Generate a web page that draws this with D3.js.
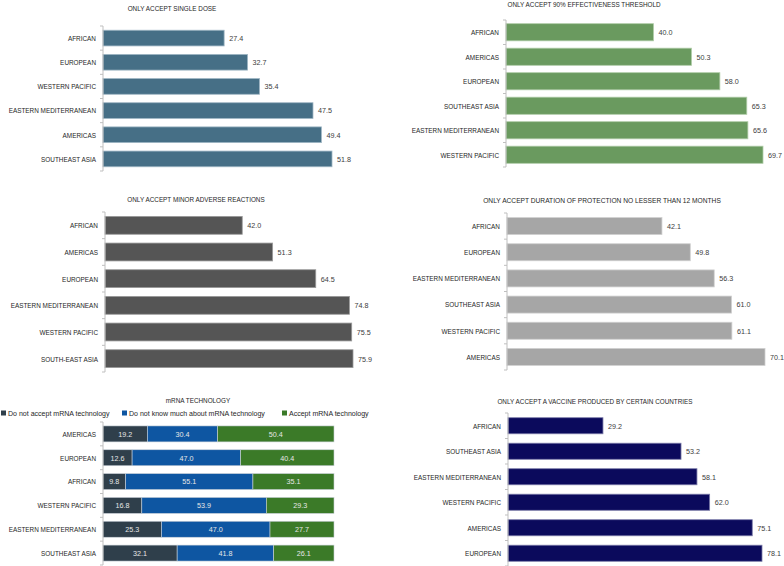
<!DOCTYPE html>
<html>
<head>
<meta charset="utf-8">
<script src="https://cdn.jsdelivr.net/npm/d3@7"></script>
<style>
  body { margin: 0; background: #fff; }
  svg { display: block; }
  text { font-family: "Liberation Sans", Arial, sans-serif; }
</style>
</head>
<body>
<svg width="784" height="566"></svg>
<script>
// ---- data ----
var singleDoseRegions = ['AFRICAN', 'EUROPEAN', 'WESTERN PACIFIC', 'EASTERN MEDITERRANEAN', 'AMERICAS', 'SOUTHEAST ASIA'];
var singleDoseValues = [27.4, 32.7, 35.4, 47.5, 49.4, 51.8];

var effectRegions = ['AFRICAN', 'AMERICAS', 'EUROPEAN', 'SOUTHEAST ASIA', 'EASTERN MEDITERRANEAN', 'WESTERN PACIFIC'];
var effectValues = [40.0, 50.3, 58.0, 65.3, 65.6, 69.7];

var adverseRegions = ['AFRICAN', 'AMERICAS', 'EUROPEAN', 'EASTERN MEDITERRANEAN', 'WESTERN PACIFIC', 'SOUTH-EAST ASIA'];
var adverseValues = [42.0, 51.3, 64.5, 74.8, 75.5, 75.9];

var durationRegions = ['AFRICAN', 'EUROPEAN', 'EASTERN MEDITERRANEAN', 'SOUTHEAST ASIA', 'WESTERN PACIFIC', 'AMERICAS'];
var durationValues = [42.1, 49.8, 56.3, 61.0, 61.1, 70.1];

var countryRegions = ['AFRICAN', 'SOUTHEAST ASIA', 'EASTERN MEDITERRANEAN', 'WESTERN PACIFIC', 'AMERICAS', 'EUROPEAN'];
var countryValues = [29.2, 53.2, 58.1, 62.0, 75.1, 78.1];

var mrnaRegions = ['AMERICAS', 'EUROPEAN', 'AFRICAN', 'WESTERN PACIFIC', 'EASTERN MEDITERRANEAN', 'SOUTHEAST ASIA'];
var mrnaSeries = ['Do not accept mRNA technology', 'Do not know much about mRNA technology', 'Accept mRNA technology'];
var mrnaNotAccept = [19.2, 12.6, 9.8, 16.8, 25.3, 32.1];
var mrnaDontKnow = [30.4, 47.0, 55.1, 53.9, 47.0, 41.8];
var mrnaAccept = [50.4, 40.4, 35.1, 29.3, 27.7, 26.1];

var svg = d3.select('svg');

// no narrow font installed, so squeeze text horizontally
function squeeze(sel, sx){
    sel.each(function(){
        var t = d3.select(this);
        var x = +t.attr('x'), y = +t.attr('y');
        t.attr('x', 0).attr('y', 0)
         .attr('transform', 'translate(' + x + ',' + y + ') scale(' + sx + ',1)');
    });
}

// axis line with Excel-like ticks at the band edges
function drawCatAxis(g, y, x0){
    var r = y.range();
    g.append('line')
        .attr('x1', x0).attr('x2', x0)
        .attr('y1', r[0]).attr('y2', r[1])
        .attr('stroke', '#bfbfbf').attr('stroke-width', 1);
    var step = (r[1] - r[0]) / y.domain().length;
    g.selectAll('line.tk')
        .data(d3.range(y.domain().length + 1))
        .enter()
        .append('line')
        .attr('class', 'tk')
        .attr('x1', x0 - 3).attr('x2', x0)
        .attr('y1', function(i){ return r[0] + i * step })
        .attr('y2', function(i){ return r[0] + i * step })
        .attr('stroke', '#bfbfbf').attr('stroke-width', 1);
    g.selectAll('text.cat')
        .data(y.domain())
        .enter()
        .append('text')
        .attr('class', 'cat')
        .attr('x', x0 - 7)
        .attr('y', function(d){ return y(d) + y.bandwidth() / 2 + 2.9 })
        .attr('text-anchor', 'end')
        .attr('font-size', 8)
        .attr('fill', '#262626')
        .text(function(d){ return d })
        .call(squeeze, 0.8);
}

function drawHBar(opt, regions, values){
    var g = svg.append('g');
    var y = d3.scaleBand().domain(regions).range(opt.yRange).paddingInner(opt.pad).paddingOuter(opt.pad / 2);
    var x = d3.scaleLinear().domain([0, d3.max(values)]).range(opt.xRange);

    g.append('text')
        .attr('x', opt.titleX).attr('y', opt.titleY)
        .attr('text-anchor', 'middle')
        .attr('font-size', 7.4)
        .attr('fill', '#262626')
        .text(opt.title)
        .call(squeeze, opt.titleSx);

    g.selectAll('rect')
        .data(regions)
        .enter()
        .append('rect')
        .attr('x', x(0))
        .attr('y', function(d){ return y(d) })
        .attr('width', function(d, i){ return x(values[i]) - x(0) })
        .attr('height', y.bandwidth())
        .attr('fill', opt.color)
        .attr('stroke', opt.stroke)
        .attr('stroke-width', 0.8);

    g.selectAll('text.val')
        .data(regions)
        .enter()
        .append('text')
        .attr('class', 'val')
        .attr('x', function(d, i){ return x(values[i]) + 5 })
        .attr('y', function(d){ return y(d) + y.bandwidth() / 2 + 2.9 })
        .attr('font-size', 8)
        .attr('fill', '#404040')
        .text(function(d, i){ return values[i].toFixed(1) })
        .call(squeeze, 0.9);

    drawCatAxis(g, y, x(0));
}

drawHBar({title: 'ONLY ACCEPT SINGLE DOSE', titleX: 172, titleY: 11, titleSx: 0.86,
          yRange: [26, 171], pad: 0.35, xRange: [103, 332], color: '#466f86', stroke: '#9fb6c4'},
         singleDoseRegions, singleDoseValues);

drawHBar({title: 'ONLY ACCEPT 90%  EFFECTIVENESS THRESHOLD', titleX: 584, titleY: 7, titleSx: 0.86,
          yRange: [20, 167], pad: 0.3, xRange: [506, 763], color: '#6a9a5f', stroke: '#b0cca8'},
         effectRegions, effectValues);

drawHBar({title: 'ONLY ACCEPT MINOR ADVERSE REACTIONS', titleX: 196, titleY: 202, titleSx: 0.86,
          yRange: [212, 372], pad: 0.33, xRange: [105, 353], color: '#555555', stroke: '#9a9a9a'},
         adverseRegions, adverseValues);

drawHBar({title: 'ONLY ACCEPT DURATION OF PROTECTION  NO LESSER THAN 12 MONTHS', titleX: 602, titleY: 203, titleSx: 0.9,
          yRange: [213, 370], pad: 0.35, xRange: [507, 765], color: '#a6a6a6', stroke: '#d0d0d0'},
         durationRegions, durationValues);

drawHBar({title: 'ONLY ACCEPT  A VACCINE PRODUCED BY CERTAIN COUNTRIES', titleX: 595, titleY: 404, titleSx: 0.86,
          yRange: [413, 566], pad: 0.37, xRange: [508, 762], color: '#0b0a5c', stroke: '#7a7aa8'},
         countryRegions, countryValues);

// ---- stacked mRNA panel ----
var mColors = ['#2f3f4b', '#0e56a2', '#3b7a28'];
var mTable = mrnaRegions.map(function(r, i){
    return {region: r, a: mrnaNotAccept[i], b: mrnaDontKnow[i], c: mrnaAccept[i]};
});
var stack = d3.stack().keys(['a', 'b', 'c'])(mTable);

var mg = svg.append('g');
var my = d3.scaleBand().domain(mrnaRegions).range([422, 565]).paddingInner(0.33).paddingOuter(0.165);
var mx = d3.scaleLinear().domain([0, 100]).range([103, 334]);

mg.append('text')
    .attr('x', 198).attr('y', 403)
    .attr('text-anchor', 'middle')
    .attr('font-size', 7.4)
    .attr('fill', '#262626')
    .text('mRNA TECHNOLOGY')
    .call(squeeze, 0.86);

var legendX = [1, 122, 282];
var lg = mg.selectAll('g.leg')
    .data(mrnaSeries)
    .enter()
    .append('g')
    .attr('class', 'leg')
    .attr('transform', function(d, i){ return 'translate(' + legendX[i] + ',416)' });
lg.append('rect')
    .attr('x', 0).attr('y', -5.5)
    .attr('width', 5).attr('height', 5)
    .attr('fill', function(d, i){ return mColors[i] });
lg.append('text')
    .attr('x', 7).attr('y', 0)
    .attr('font-size', 8)
    .attr('fill', '#262626')
    .text(function(d){ return d })
    .call(squeeze, 0.88);

var layer = mg.selectAll('g.layer')
    .data(stack)
    .enter()
    .append('g')
    .attr('class', 'layer')
    .attr('fill', function(d, i){ return mColors[i] });

layer.selectAll('rect')
    .data(function(d){ return d })
    .enter()
    .append('rect')
    .attr('x', function(d){ return mx(d[0]) })
    .attr('y', function(d){ return my(d.data.region) })
    .attr('width', function(d){ return mx(d[1]) - mx(d[0]) })
    .attr('height', my.bandwidth())
    .attr('stroke', '#c8d0d8')
    .attr('stroke-width', 0.6);

layer.selectAll('text')
    .data(function(d){ return d })
    .enter()
    .append('text')
    .attr('x', function(d){ return (mx(d[0]) + mx(d[1])) / 2 })
    .attr('y', function(d){ return my(d.data.region) + my.bandwidth() / 2 + 2.9 })
    .attr('text-anchor', 'middle')
    .attr('font-size', 8)
    .attr('fill', '#e6e6e6')
    .text(function(d){ return (d[1] - d[0]).toFixed(1) })
    .call(squeeze, 0.9);

drawCatAxis(mg, my, mx(0));
</script>
</body>
</html>
